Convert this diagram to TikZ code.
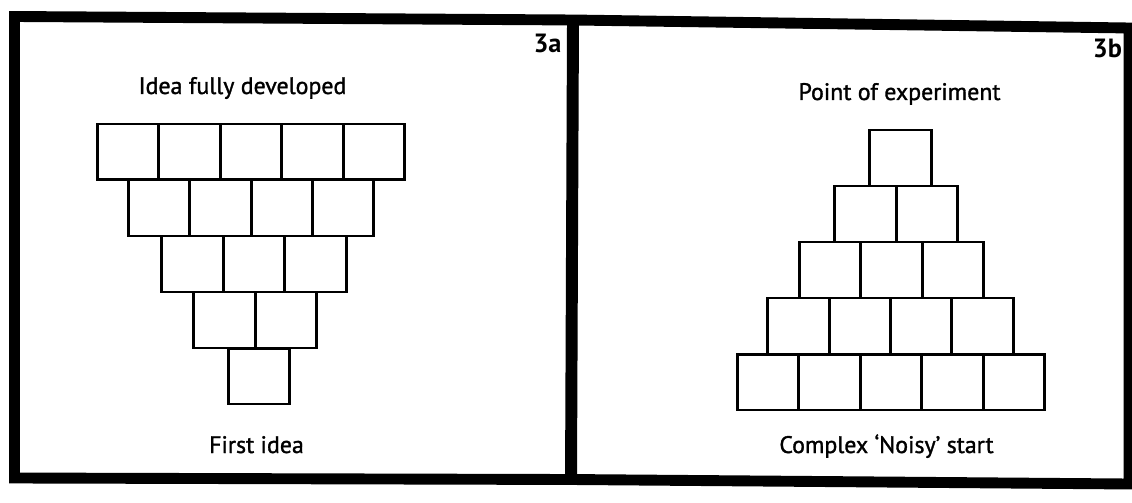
\documentclass[tikz,border=0pt]{standalone}
\usepackage{fontspec}
\setmainfont{PT Sans}
\newfontfamily\labelfont{PT Sans}[FakeBold=1.3]
\usepackage{tikz}
\usetikzlibrary{positioning}

\tikzset{
  brick/.style={draw, line width=1.7pt, minimum width=1.228cm, minimum height=1.12cm, inner sep=0pt, outer sep=0pt},
  frame/.style={line width=6.2pt},
  caption/.style={anchor=base, inner sep=0pt, font=\labelfont\fontsize{13.6}{16}\selectfont},
  tag/.style={anchor=base, inner sep=0pt, font=\fontsize{15}{18}\selectfont\bfseries}
}

\begin{document}
\begin{tikzpicture}[x=0.02cm, y=-0.02cm]
  \useasboundingbox (0,0) rectangle (1132,503);

  % outer frame and the divider between the two panels
  \draw[frame] (14.5,16.5) -- (573,20) -- (1129,28) -- (1129,484) -- (571,479.5) -- (14.5,478) -- cycle;
  \draw[frame, line width=6.8pt] (573,20) -- (571,479.5);

  % 3a: wall that narrows downwards
  \foreach \n/\cx [count=\r] in {5/251, 4/251, 3/254, 2/255, 1/259}{
    \foreach \i in {1,...,\n}{
      \node[brick] (a\r\i) at ({\cx+(\i-(\n+1)/2)*61.4}, {152+(\r-1)*56}) {};
    }
  }
  \node[caption] (topA) at (242.5,94) {Idea fully developed};
  \node[caption] (baseA) at (256.5,453) {First idea};
  \node[tag] (tagA) at (547.5,53) {3a};

  % 3b: pyramid that widens downwards
  \foreach \n/\cx [count=\r] in {1/900.5, 2/896, 3/891.5, 4/890.5, 5/891}{
    \foreach \i in {1,...,\n}{
      \node[brick] (b\r\i) at ({\cx+(\i-(\n+1)/2)*61.4}, {158+(\r-1)*56}) {};
    }
  }
  \node[caption] (topB) at (899.5,100) {Point of experiment};
  \node[caption] (baseB) at (886.5,453) {Complex ‘Noisy’ start};
  \node[tag] (tagB) at (1107.5,58) {3b};
\end{tikzpicture}
\end{document}
